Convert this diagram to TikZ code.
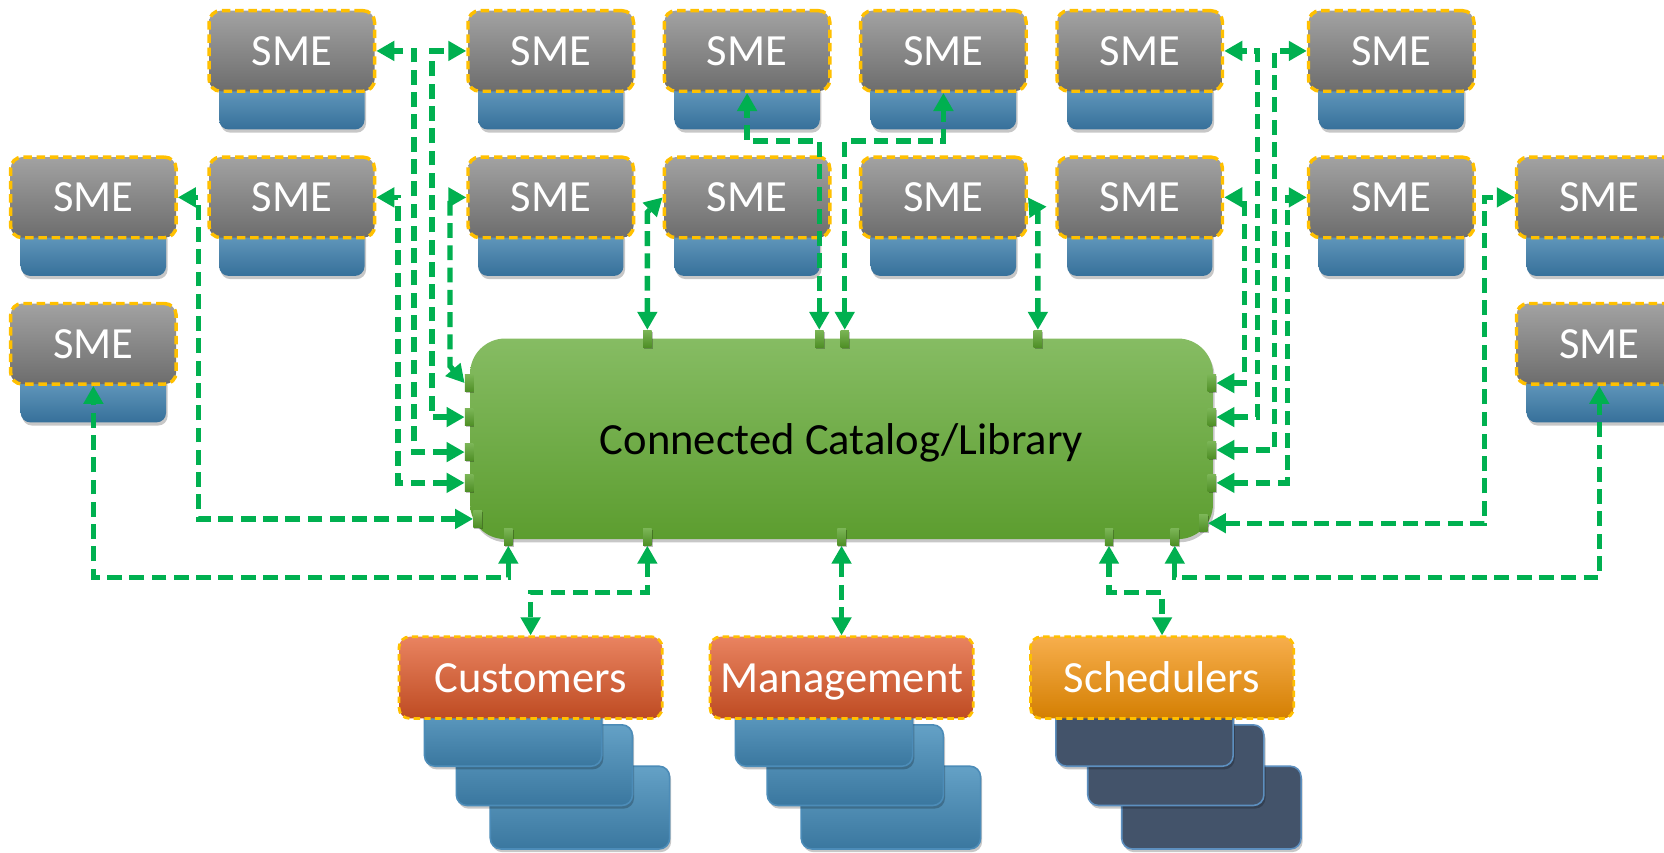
\documentclass[tikz,border=0pt]{standalone}
\usepackage{fontspec}
\setmainfont{Carlito}
\usetikzlibrary{arrows.meta,shadows}
\definecolor{cgreen}{HTML}{00B050}
\definecolor{smetop}{HTML}{A2A2A2}
\definecolor{smebot}{HTML}{6D6D6D}
\definecolor{basetop}{HTML}{6A9FC2}
\definecolor{basebot}{HTML}{36709A}
\definecolor{ybord}{HTML}{FFC000}
\definecolor{greentop}{HTML}{86BC63}
\definecolor{greenbot}{HTML}{5C9D2F}
\definecolor{tabtop}{HTML}{7BB556}
\definecolor{tabbot}{HTML}{4F8F26}
\definecolor{custtop}{HTML}{E98360}
\definecolor{custbot}{HTML}{BE4B22}
\definecolor{schtop}{HTML}{F7AE4C}
\definecolor{schbot}{HTML}{D47F02}
\definecolor{cardtop}{HTML}{64A1C6}
\definecolor{cardbot}{HTML}{3A779F}
\definecolor{cardedge}{HTML}{4C8CB8}
\definecolor{darkcard}{HTML}{43536A}
\definecolor{darkedge}{HTML}{5D8FBF}
\tikzset{
  softsh/.style={drop shadow={shadow xshift=1.5pt, shadow yshift=-3pt, opacity=.22, fill=black}},
  smebox/.style={rounded corners=11pt, minimum width=156pt, minimum height=76pt, inner sep=0pt,
    top color=smetop, bottom color=smebot, draw=ybord, line width=3.2pt,
    dash pattern=on 8pt off 4.5pt, text=white, font=\fontsize{42}{50}\selectfont},
  smebase/.style={rounded corners=9pt, top color=basetop, bottom color=basebot, softsh},
  catbox/.style={rounded corners=33pt, minimum width=700pt, minimum height=189pt, inner sep=0pt,
    text height=29pt, text depth=0pt,
    top color=greentop, bottom color=greenbot, softsh, text=black, font=\fontsize{42}{50}\selectfont},
  porttab/.style={minimum width=8pt, minimum height=16pt, inner sep=0pt, top color=tabtop, bottom color=tabbot,
    drop shadow={shadow xshift=1pt, shadow yshift=-1.5pt, opacity=.25, fill=black}},
  lblbox/.style={rounded corners=10pt, minimum width=248pt, minimum height=77pt, inner sep=0pt,
    text height=29pt, text depth=0pt,
    draw=ybord, line width=2.6pt, dash pattern=on 6pt off 4pt, text=white, font=\fontsize{42}{50}\selectfont},
  bluecard/.style={rounded corners=10pt, top color=cardtop, bottom color=cardbot, draw=cardedge, line width=1.5pt, softsh},
  darkcardst/.style={rounded corners=10pt, fill=darkcard, draw=darkedge, line width=1.5pt, softsh},
  conn/.style={draw=cgreen, line width=5pt, dash pattern=on 14pt off 7pt,
    {Triangle[length=17pt,width=18pt]}-{Triangle[length=17pt,width=18pt]}},
}
\begin{document}
\begin{tikzpicture}[x=1pt,y=-1pt]
\useasboundingbox (0,0) rectangle (1568,803);
\fill[white] (0,0) rectangle (1568,803);

% SME boxes
\foreach \n/\x/\y in {a1/197/10, a2/441/10, a3/626/10, a4/811/10, a5/996/10, a6/1233/10,
  b1/10/148, b2/197/148, b3/441/148, b4/626/148, b5/811/148, b6/996/148, b7/1233/148, b8/1429/148,
  c1/10/286, c2/1429/286} {
  \path[smebase] (\x+9.5,\y+66) rectangle (\x+146.5,\y+112);
  \node[smebox] (\n) at (\x+78,\y+38) {SME};
}

% central catalog
\node[catbox] (cat) at (793,413.5) {Connected Catalog/Library};

% ports
\node[porttab] (tL1) at (442,361) {};
\node[porttab] (tL2) at (442,393) {};
\node[porttab] (tL3) at (442,426) {};
\node[porttab] (tL4) at (442,455) {};
\node[porttab] (tL5) at (450,489) {};
\node[porttab] (tR1) at (1142,361) {};
\node[porttab] (tR2) at (1142,393) {};
\node[porttab] (tR3) at (1142,424) {};
\node[porttab] (tR4) at (1142,455) {};
\node[porttab] (tR5) at (1134,493) {};
\node[porttab] (tT1) at (610,319) {};
\node[porttab] (tT2) at (772,319) {};
\node[porttab] (tT3) at (796,319) {};
\node[porttab] (tT4) at (978,319) {};
\node[porttab] (tB1) at (479,506) {};
\node[porttab] (tB2) at (610,506) {};
\node[porttab] (tB3) at (793,506) {};
\node[porttab] (tB4) at (1045,506) {};
\node[porttab] (tB5) at (1107,506) {};

% bottom card stacks
\foreach \L in {376,669} {
  \path[bluecard] (\L+86,722) rectangle (\L+255,800);
  \path[bluecard] (\L+54,683) rectangle (\L+220,759);
  \path[bluecard] (\L+24,660) rectangle (\L+191,722);
}
\path[darkcardst] (971+86,722) rectangle (971+255,800);
\path[darkcardst] (971+54,683) rectangle (971+220,759);
\path[darkcardst] (971+24,660) rectangle (971+191,722);

\node[lblbox, top color=custtop, bottom color=custbot] (cust) at (500,638.5) {Customers};
\node[lblbox, top color=custtop, bottom color=custbot] (mgmt) at (793,638.5) {Management};
\node[lblbox, top color=schtop, bottom color=schbot] (sched) at (1095,638.5) {Schedulers};

% left connectors
\draw[conn] (tL5.west) -- (187,489) -- (187,186) -- (b1.east);
\draw[conn] (tL4.west) -- (375,455) -- (375,186) -- (b2.east);
\draw[conn] (tL3.west) -- (390,426) -- (390,48) -- (a1.east);
\draw[conn] (tL2.west) -- (407,393) -- (407,48) -- (a2.west);
\draw[conn] (tL1.west) -- (424,345) -- (424,186) -- (b3.west);
% right connectors
\draw[conn] (tR1.east) -- (1173,361) -- (1173,186) -- (b6.east);
\draw[conn] (tR2.east) -- (1185,393) -- (1185,48) -- (a5.east);
\draw[conn] (tR3.east) -- (1201,424) -- (1201,48) -- (a6.west);
\draw[conn] (tR4.east) -- (1213,455) -- (1213,186) -- (b7.west);
\draw[conn] (tR5.east) -- (1399,493) -- (1399,186) -- (b8.west);
% top connectors
\draw[conn] (tT1.north) -- (610,200) -- (b4.west);
\draw[conn] (tT2.north) -- (772,133) -- (704,133) -- (a3.south);
\draw[conn] (tT3.north) -- (796,133) -- (889,133) -- (a4.south);
\draw[conn] (tT4.north) -- (978,200) -- (b5.east);
% bottom connectors
\draw[conn] (tB1.south) -- (479,544) -- (88,544) -- (c1.south);
\draw[conn] (tB2.south) -- (610,558) -- (500,558) -- (cust.north);
\draw[conn] (tB3.south) -- (mgmt.north);
\draw[conn] (tB4.south) -- (1045,558) -- (1095,558) -- (sched.north);
\draw[conn] (tB5.south) -- (1107,544) -- (1507,544) -- (c2.south);
\end{tikzpicture}
\end{document}
